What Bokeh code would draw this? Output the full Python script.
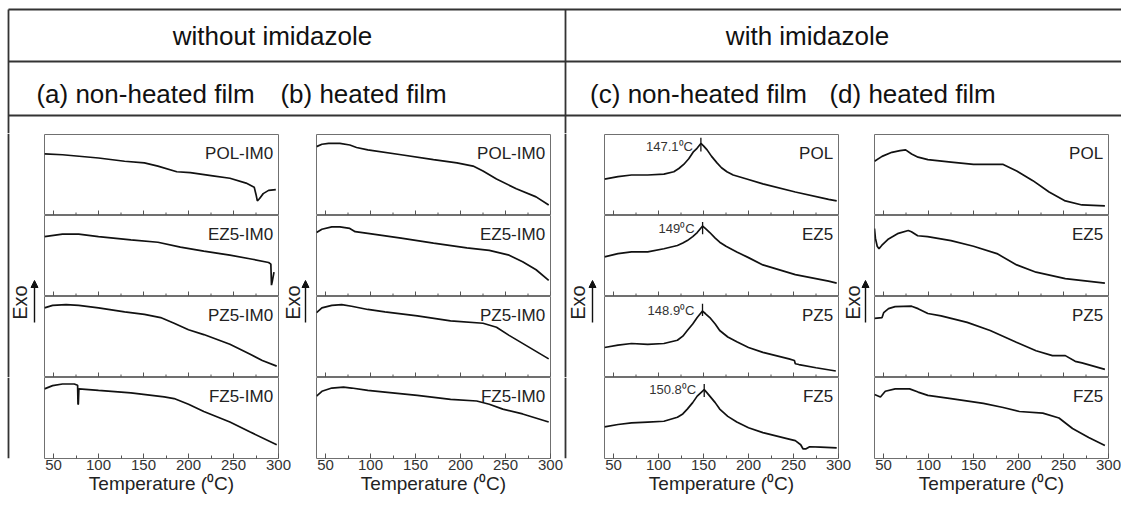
import math
from bokeh.plotting import figure
from bokeh.layouts import column, row
from bokeh.models import Range1d, FixedTicker, Label, Arrow, NormalHead
from bokeh.embed import file_html
from bokeh.resources import INLINE
from bokeh.core.properties import value

FONT = "Liberation Sans"

# ---------------- data (temperature in degC, relative heat flow 0..1 within each sub-panel) ----------------
major_ticks = [50, 100, 150, 200, 250, 300]
minor_ticks = [75, 125, 175, 225, 275]

labels_ab = ["POL-IM0", "EZ5-IM0", "PZ5-IM0", "FZ5-IM0"]
labels_cd = ["POL", "EZ5", "PZ5", "FZ5"]
group_titles = ["without imidazole", "with imidazole"]
panel_titles = ["(a) non-heated film", "(b) heated film", "(c) non-heated film", "(d) heated film"]
x_title = "Temperature (\u2070C)"
y_title = "Exo"

# (a) without imidazole, non-heated
a_pol_t = [40, 60, 100, 129, 151, 166, 187, 202, 227, 246, 264, 273, 275, 276.5, 279, 283, 289, 297]
a_pol_y = [.76, .75, .71, .67, .65, .61, .54, .53, .49, .46, .40, .35, .26, .18, .21, .27, .31, .32]
a_ez5_t = [40, 60, 78, 100, 136, 166, 191, 217, 246, 271, 289, 291.5, 292.2, 293, 295]
a_ez5_y = [.74, .77, .77, .74, .70, .67, .61, .56, .51, .46, .42, .40, .14, .18, .30]
a_pz5_t = [40, 49, 64, 78, 100, 129, 151, 169, 184, 200, 217, 246, 268, 282, 298]
a_pz5_y = [.86, .89, .90, .89, .86, .81, .78, .74, .67, .59, .53, .41, .29, .21, .14]
a_fz5_t = [40, 49, 60, 73, 76.8, 77.2, 77.6, 78.2, 100, 136, 173, 184, 200, 217, 246, 268, 298]
a_fz5_y = [.86, .90, .92, .92, .905, .67, .67, .86, .84, .81, .76, .74, .67, .58, .45, .33, .17]

# (b) without imidazole, heated
b_pol_t = [40, 46, 53.5, 66, 77, 84.5, 97, 134, 170, 196, 214, 225, 240, 262, 284, 298]
b_pol_y = [.85, .88, .89, .89, .87, .84, .81, .75, .69, .65, .61, .55, .45, .33, .23, .13]
b_ez5_t = [40, 46, 57, 66, 77, 83, 97, 134, 170, 207, 232, 254, 269, 284, 298]
b_ez5_y = [.79, .83, .86, .86, .84, .80, .78, .72, .66, .60, .57, .51, .43, .33, .20]
b_pz5_t = [40, 46, 57, 68, 79, 97, 116, 152, 189, 225, 240, 254, 276, 298]
b_pz5_y = [.80, .86, .89, .90, .88, .84, .81, .76, .70, .67, .62, .52, .375, .23]
b_fz5_t = [40, 46, 57, 70, 79, 97, 116, 152, 189, 218, 232, 247, 269, 298]
b_fz5_y = [.77, .83, .87, .88, .87, .84, .82, .78, .73, .71, .67, .61, .55, .45]

# (c) with imidazole, non-heated
c_pol_t = [40, 55, 70, 88, 106, 117, 122.6, 128, 133.6, 139, 142.8, 147.1, 150, 154, 159, 165, 170, 176, 183, 198, 216, 252, 289, 298]
c_pol_y = [.45, .48, .50, .50, .51, .54, .58, .63, .70, .79, .83, .89, .86, .81, .73, .65, .59, .54, .50, .45, .39, .29, .20, .18]
c_ez5_t = [40, 55, 70, 88, 106, 121, 127, 132, 138, 143, 149, 152, 157, 163, 168, 175, 187, 200, 216, 252, 289, 298]
c_ez5_y = [.49, .53, .55, .55, .59, .63, .66, .69, .74, .79, .87, .84, .79, .72, .67, .62, .55, .48, .39, .27, .19, .165]
c_pz5_t = [40, 55, 70, 88, 106, 121, 127, 132, 138, 143, 148.9, 152, 157, 163, 168, 177, 187, 200, 216, 245, 251, 252, 256, 275, 297]
c_pz5_y = [.37, .40, .42, .41, .42, .46, .51, .58, .66, .74, .82, .79, .74, .66, .58, .50, .44, .37, .31, .23, .21, .17, .16, .12, .08]
c_fz5_t = [40, 55, 70, 88, 106, 121, 127, 132, 138, 143, 150.8, 154, 157, 163, 168, 177, 187, 200, 216, 245, 252, 258, 260.5, 264, 268, 280, 298]
c_fz5_y = [.39, .42, .44, .45, .46, .51, .55, .61, .69, .77, .85, .81, .77, .69, .61, .52, .45, .38, .32, .24, .22, .17, .12, .12, .145, .14, .13]

peak_t = [147.1, 149, 148.9, 150.8]
peak_text = ["147.1\u2070C", "149\u2070C", "148.9\u2070C", "150.8\u2070C"]
peak_text_y = [.85, .835, .83, .85]
peak_lo = [.79, .77, .76, .76]
peak_hi = [.96, .92, .91, .92]

# (d) with imidazole, heated
d_pol_t = [40, 48.4, 59.3, 68.4, 74.6, 81.2, 88.4, 99.3, 125, 150, 183, 198, 216, 234, 252, 270.5, 296]
d_pol_y = [.67, .73, .78, .80, .81, .76, .72, .69, .66, .63, .63, .55, .43, .29, .18, .13, .12]
d_ez5_t = [40, 41, 43, 45, 48, 55.6, 66.5, 77.5, 81, 88, 99, 125, 150, 176, 198, 219.5, 252, 296]
d_ez5_y = [.84, .72, .62, .59, .63, .71, .78, .815, .80, .75, .74, .69, .62, .53, .39, .30, .22, .165]
d_pz5_t = [40, 48.4, 50.2, 55.6, 62.9, 81.2, 88.4, 99.3, 114, 143, 168.5, 197.6, 219.5, 237.7, 252, 263, 270.5, 296]
d_pz5_y = [.73, .74, .80, .85, .875, .88, .85, .79, .76, .68, .58, .435, .33, .27, .27, .20, .18, .10]
d_fz5_t = [40, 46.6, 52, 63, 79, 88.4, 99.3, 125, 161, 183, 201, 227, 245, 260, 278, 296]
d_fz5_y = [.79, .76, .83, .86, .86, .82, .78, .74, .68, .63, .58, .56, .50, .37, .26, .16]

panels = [
    [(a_pol_t, a_pol_y), (a_ez5_t, a_ez5_y), (a_pz5_t, a_pz5_y), (a_fz5_t, a_fz5_y)],
    [(b_pol_t, b_pol_y), (b_ez5_t, b_ez5_y), (b_pz5_t, b_pz5_y), (b_fz5_t, b_fz5_y)],
    [(c_pol_t, c_pol_y), (c_ez5_t, c_ez5_y), (c_pz5_t, c_pz5_y), (c_fz5_t, c_fz5_y)],
    [(d_pol_t, d_pol_y), (d_ez5_t, d_ez5_y), (d_pz5_t, d_pz5_y), (d_fz5_t, d_fz5_y)],
]
panel_labels = [labels_ab, labels_ab, labels_cd, labels_cd]

# ---------------- layout constants (pixels) ----------------
TOTAL_W = 1121
HEAD_H = 133
SUB_H = 81
AX_H = 40
FW = 234
FL = [44, 316, 604, 874]          # frame left edges
DIV_X = 565
LINE_C = "#333333"
MID_H = 1 + 3 * SUB_H
BOT_H = SUB_H + AX_H
TICK_IN = 5.0
MINOR_IN = 3.0


def make_sub(t, y, label, pos, peak=None):
    first = pos == 0
    last = pos == 3
    top = 1 if first else 0
    bottom = AX_H if last else 0
    right = 13 if last else 1
    p = figure(width=1 + FW + right, height=top + SUB_H + bottom,
               x_range=Range1d(40, 300), y_range=Range1d(0, 1),
               x_axis_location="below" if last else None,
               y_axis_location=None, output_backend="svg", toolbar_location=None,
               min_border_left=1, min_border_right=right,
               min_border_top=top, min_border_bottom=bottom)
    p.grid.visible = False
    p.outline_line_color = "#707070"
    p.outline_line_width = 1
    if last:
        ax = p.xaxis[0]
        ax.ticker = FixedTicker(ticks=major_ticks, minor_ticks=minor_ticks)
        ax.major_tick_in = int(TICK_IN)
        ax.major_tick_out = 0
        ax.minor_tick_in = int(MINOR_IN)
        ax.minor_tick_out = 0
        ax.major_tick_line_color = "#555555"
        ax.minor_tick_line_color = "#555555"
        ax.axis_line_color = None
        ax.major_label_text_font_size = "15px"
        ax.major_label_text_font = FONT
        ax.major_label_text_color = "#333333"
        ax.major_label_standoff = 1
        ax.axis_label = x_title
        ax.axis_label_text_font = FONT
        ax.axis_label_text_font_size = "19px"
        ax.axis_label_text_font_style = "normal"
        ax.axis_label_text_color = "#222222"
        ax.axis_label_standoff = 0
    else:
        # inward ticks on the shared temperature scale of the stacked sub-panel
        p.segment(x0=major_ticks, y0=[0] * len(major_ticks), x1=major_ticks,
                  y1=[TICK_IN / SUB_H] * len(major_ticks), line_color="#555555", line_width=1)
        p.segment(x0=minor_ticks, y0=[0] * len(minor_ticks), x1=minor_ticks,
                  y1=[MINOR_IN / SUB_H] * len(minor_ticks), line_color="#555555", line_width=1)
    p.line(t, y, line_color="#111111", line_width=1.7)
    p.add_layout(Label(x=294, y=0.77, text=label, text_align="right",
                       text_baseline="alphabetic", text_font_size="17px",
                       text_font=FONT, text_color="#222222"))
    if peak is not None:
        pk, txt, ty, lo, hi = peak
        p.segment(x0=[pk], y0=[lo], x1=[pk], y1=[hi], line_color="#111111", line_width=1.3)
        p.text(x=[pk], y=[ty], text=[txt], x_offset=-8, text_align="right",
               text_baseline="middle", text_font_size="13px",
               text_font=value(FONT), text_color="#333333")
    return p


def make_gap(width, height, vlines=(), exo_x=None, arrow_x=None):
    p = figure(width=width, height=height, x_range=Range1d(0, width), y_range=Range1d(0, height),
               x_axis_location=None, y_axis_location=None, output_backend="svg",
               toolbar_location=None, min_border=0, outline_line_color=None)
    p.grid.visible = False
    for vx in vlines:
        p.segment(x0=[vx], y0=[0], x1=[vx], y1=[height], line_color=LINE_C, line_width=1.8)
    if exo_x is not None:
        p.text(x=[exo_x], y=[height - 169], text=[y_title], angle=math.pi / 2,
               text_align="center", text_baseline="middle", text_font_size="20px",
               text_font=value(FONT), text_color="#222222")
        p.add_layout(Arrow(x_start=arrow_x, y_start=height - 189, x_end=arrow_x, y_end=height - 147,
                           end=NormalHead(size=7, fill_color="#111111", line_color="#111111"),
                           line_color="#111111", line_width=1.4))
    return p


# ---------------- header ----------------
h = figure(width=TOTAL_W, height=HEAD_H, x_range=Range1d(0, TOTAL_W), y_range=Range1d(HEAD_H, 0),
           x_axis_location=None, y_axis_location=None, output_backend="svg",
           toolbar_location=None, min_border=0, outline_line_color=None)
h.grid.visible = False
h.segment(x0=[8, 8, 8, 8, DIV_X], y0=[9, 61, 115, 9, 9],
          x1=[TOTAL_W, TOTAL_W, TOTAL_W, 8, DIV_X], y1=[9, 61, 115, HEAD_H, HEAD_H],
          line_color=LINE_C, line_width=1.8)
h.text(x=[272, 807], y=[35, 35], text=group_titles, text_align="center", text_baseline="middle",
       text_font_size="26px", text_font=value(FONT), text_color="#111111")
h.text(x=[145, 363, 698, 912], y=[93, 93, 93, 93], text=panel_titles, text_align="center",
       text_baseline="middle", text_font_size="26px", text_font=value(FONT), text_color="#111111")

# ---------------- sub-panels ----------------
cols_mid = []
bottoms = []
for i in range(4):
    subs = []
    for k in range(4):
        t, y = panels[i][k]
        peak = None
        if i == 2:
            peak = (peak_t[k], peak_text[k], peak_text_y[k], peak_lo[k], peak_hi[k])
        subs.append(make_sub(t, y, panel_labels[i][k], k, peak))
    cols_mid.append(column(subs[0], subs[1], subs[2]))
    bottoms.append(subs[3])

# canvases: upper sub-panels span [FL-1, FL+FW+1), bottom ones [FL-1, FL+FW+13)
up_l = [f - 1 for f in FL]
up_r = [f + FW + 1 for f in FL]
bt_r = [f + FW + 13 for f in FL]

g0 = make_gap(up_l[0], MID_H, vlines=[8], exo_x=19, arrow_x=34)
g1 = make_gap(up_l[1] - up_r[0], MID_H, exo_x=FL[1] - 24 - up_r[0], arrow_x=FL[1] - 11 - up_r[0])
g2 = make_gap(up_l[2] - up_r[1], MID_H, vlines=[DIV_X - up_r[1]],
              exo_x=FL[2] - 27 - up_r[1], arrow_x=FL[2] - 12 - up_r[1])
g3 = make_gap(up_l[3] - up_r[2], MID_H, exo_x=FL[3] - 22 - up_r[2], arrow_x=FL[3] - 9 - up_r[2])

s0 = make_gap(up_l[0], BOT_H, vlines=[8])
s1 = make_gap(up_l[1] - bt_r[0], BOT_H)
s2 = make_gap(up_l[2] - bt_r[1], BOT_H, vlines=[DIV_X - bt_r[1]])
s3 = make_gap(up_l[3] - bt_r[2], BOT_H)

mid = row(g0, cols_mid[0], g1, cols_mid[1], g2, cols_mid[2], g3, cols_mid[3])
bot = row(s0, bottoms[0], s1, bottoms[1], s2, bottoms[2], s3, bottoms[3])
layout = column(h, mid, bot)

open("out.html", "w").write(file_html(layout, INLINE))
